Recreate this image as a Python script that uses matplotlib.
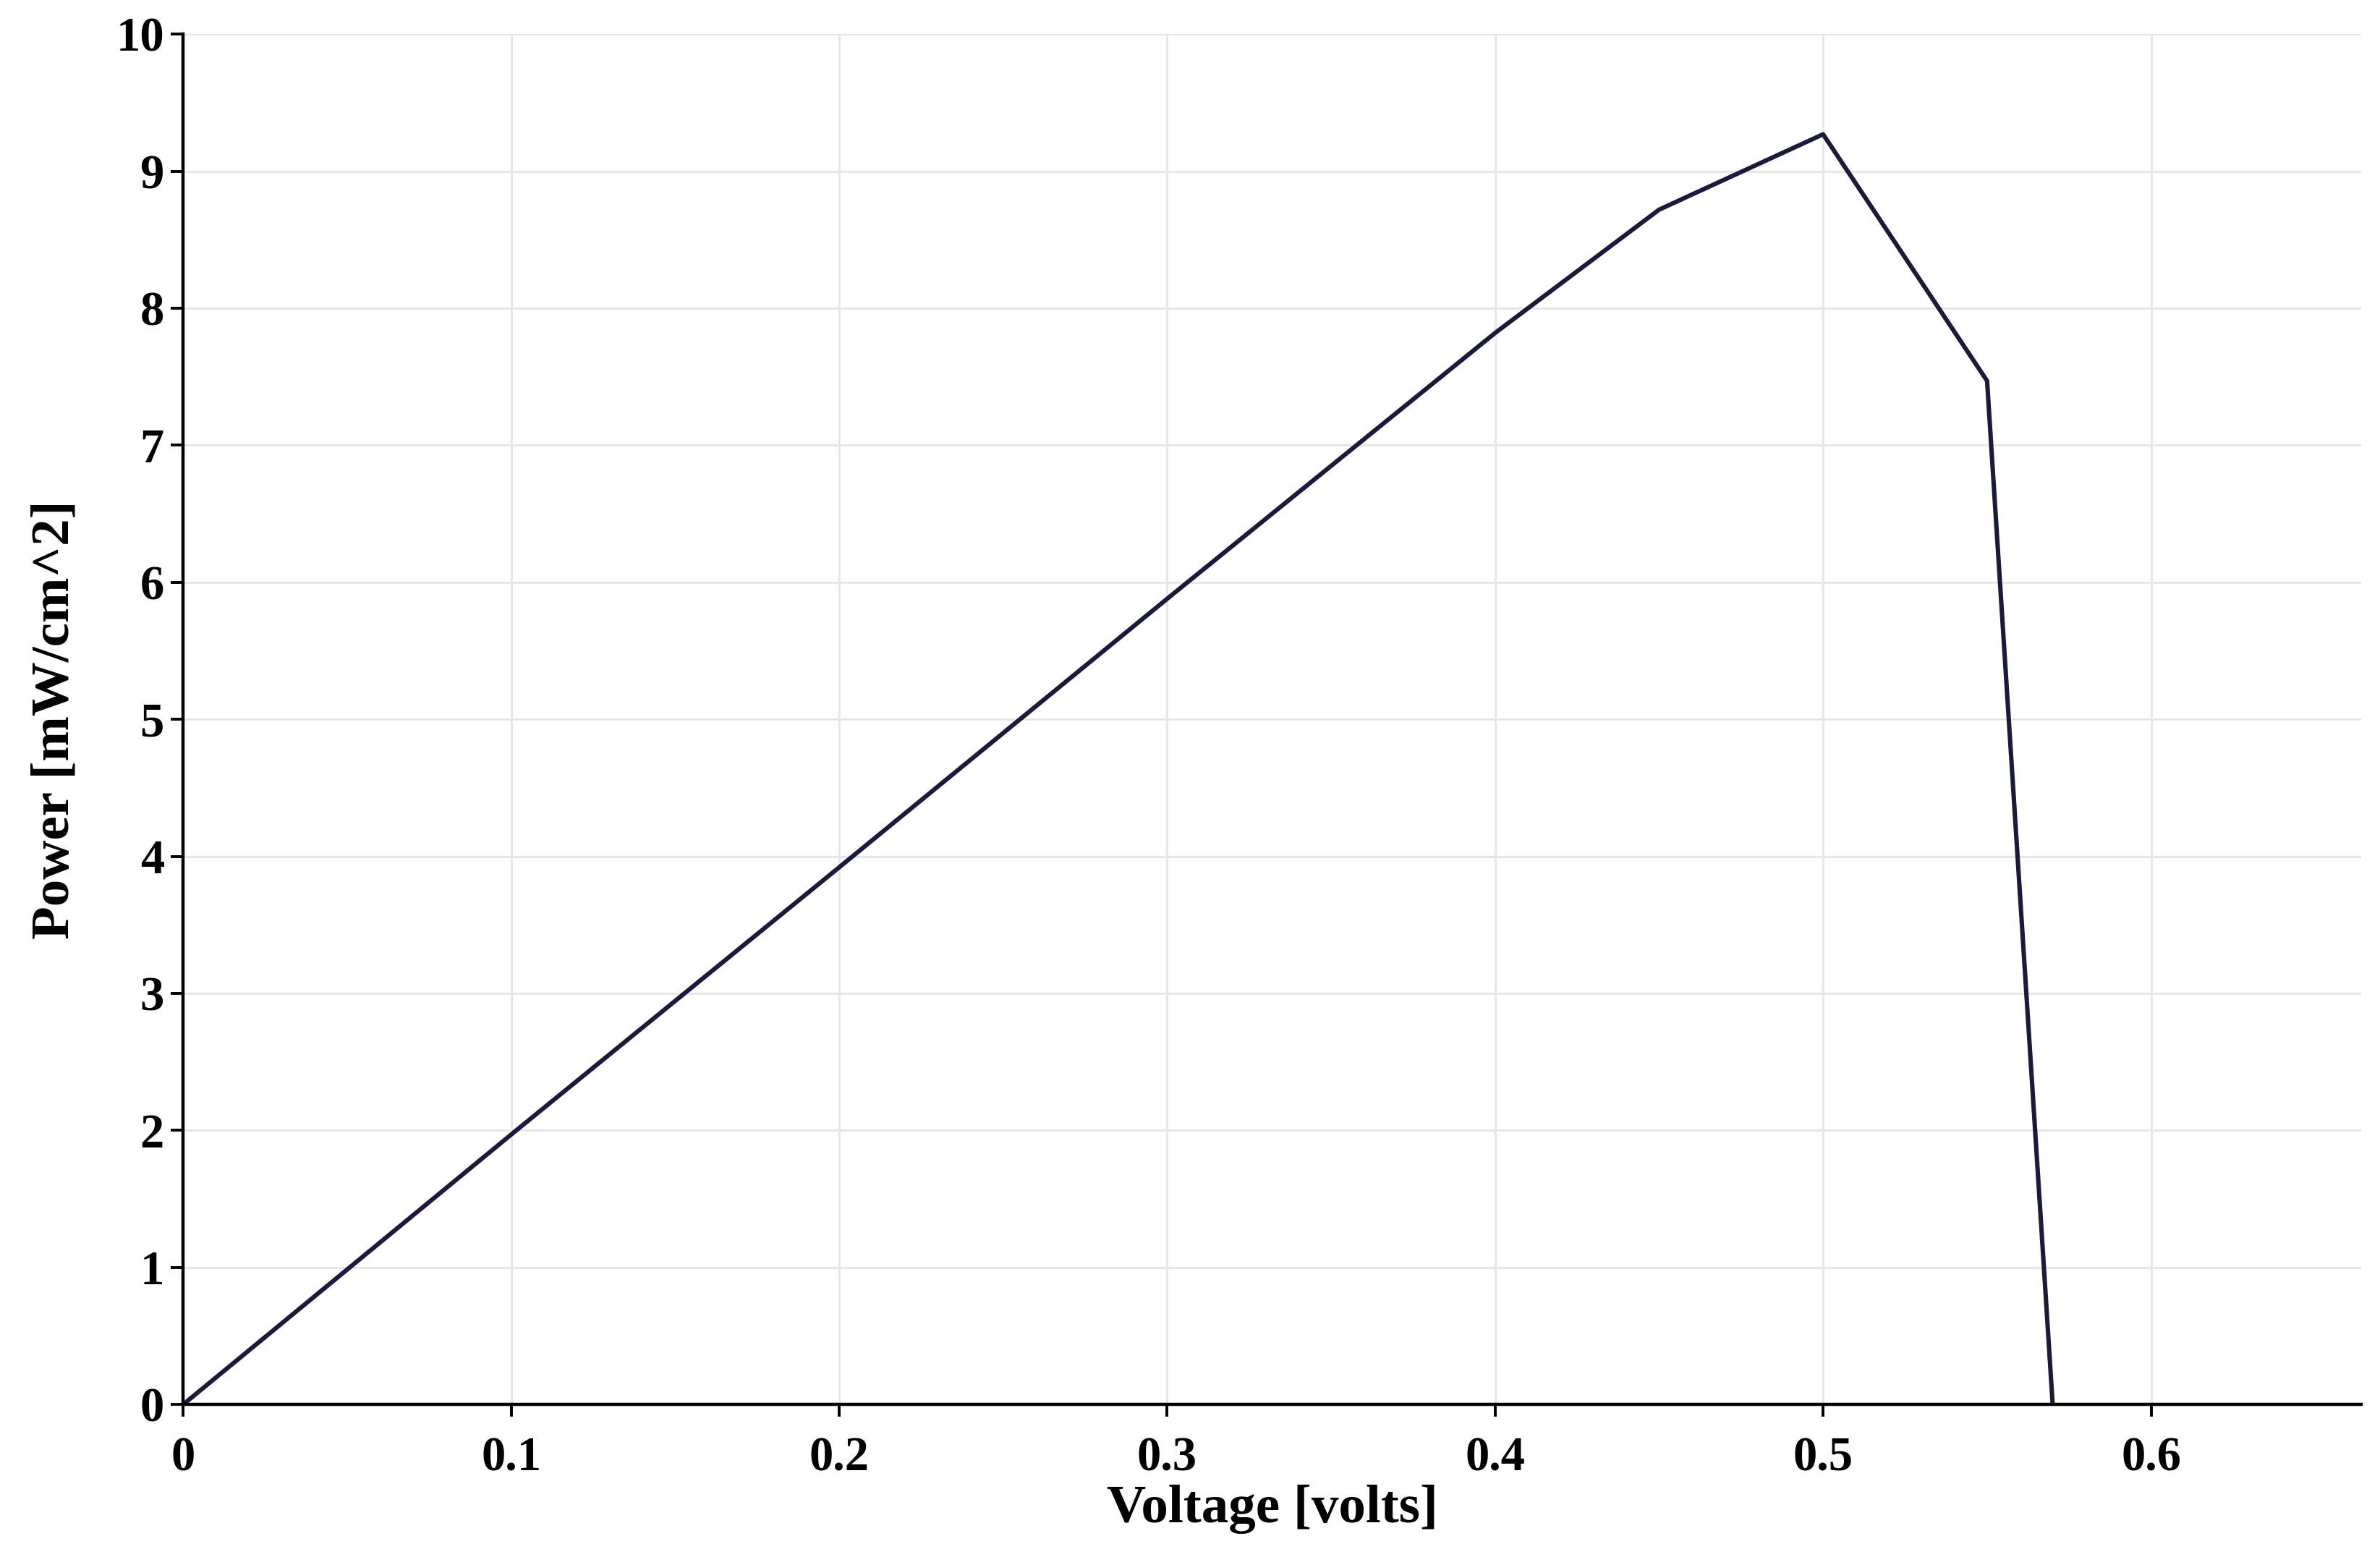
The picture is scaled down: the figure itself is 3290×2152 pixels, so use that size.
import matplotlib
matplotlib.use('Agg')
import matplotlib.pyplot as plt

# power curve
voltage = [0.0, 0.1, 0.2, 0.3, 0.4, 0.45, 0.5, 0.55, 0.57]
power = [0.0, 1.97, 3.92, 5.88, 7.82, 8.72, 9.27, 7.47, 0.0]

xticks = [0, 0.1, 0.2, 0.3, 0.4, 0.5, 0.6]
xlabels = ['0', '0.1', '0.2', '0.3', '0.4', '0.5', '0.6']
yticks = list(range(0, 11))

plt.rcParams['font.family'] = ['Liberation Serif', 'DejaVu Serif']

fig = plt.figure(figsize=(16.45, 10.76), dpi=200)
ax = fig.add_axes([0.077, 0.098, 0.915, 0.88])
ax.plot(voltage, power, color='#1a1a3a', lw=2.2)

ax.set_xlim(0, 0.664)
ax.set_ylim(0, 10)
ax.set_xticks(xticks)
ax.set_xticklabels(xlabels)
ax.set_yticks(yticks)
ax.grid(True, color='#e6e6e6', lw=1.0)
for s in ['top', 'right']:
    ax.spines[s].set_visible(False)
for s in ['left', 'bottom']:
    ax.spines[s].set_linewidth(1.6)
    ax.spines[s].set_color('black')
ax.tick_params(labelsize=24, width=1.4, length=6, direction='out')
ax.tick_params(axis='x', pad=10)
for lbl in ax.get_xticklabels() + ax.get_yticklabels():
    lbl.set_fontweight('bold')
ax.set_xlabel('Voltage [volts]', fontsize=27, fontweight='bold', labelpad=2)
ax.set_ylabel('Power [mW/cm^2]', fontsize=27, fontweight='bold', labelpad=18)

fig.savefig('out.png', dpi=200)
